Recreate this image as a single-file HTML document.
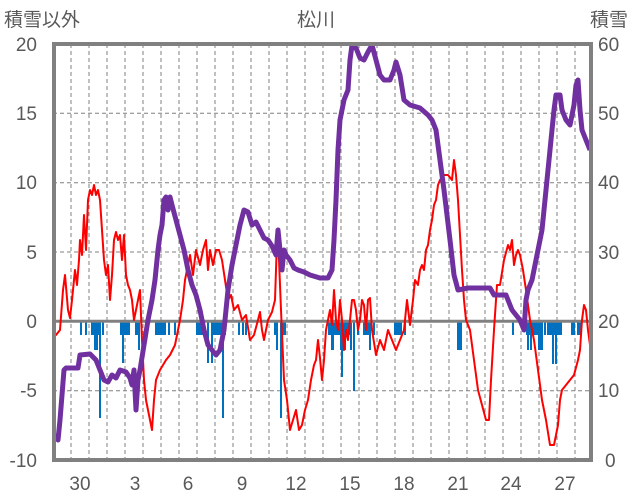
<!DOCTYPE html>
<html><head><meta charset="utf-8"><style>
body{margin:0;background:#fff;}
svg{display:block;}
text{font-family:"Liberation Sans","Noto Sans CJK JP",sans-serif;fill:#595959;font-size:19px;}
</style></head><body>
<svg width="636" height="501" viewBox="0 0 636 501">
<g stroke="#808080" stroke-width="1" stroke-dasharray="4,3">
<line x1="53" y1="113.3" x2="592" y2="113.3"/><line x1="53" y1="182.7" x2="592" y2="182.7"/><line x1="53" y1="252" x2="592" y2="252"/><line x1="53" y1="390.7" x2="592" y2="390.7"/>
<line x1="71" y1="44" x2="71" y2="460"/><line x1="89" y1="44" x2="89" y2="460"/><line x1="107" y1="44" x2="107" y2="460"/><line x1="125" y1="44" x2="125" y2="460"/><line x1="143" y1="44" x2="143" y2="460"/><line x1="161" y1="44" x2="161" y2="460"/><line x1="179" y1="44" x2="179" y2="460"/><line x1="197" y1="44" x2="197" y2="460"/><line x1="215" y1="44" x2="215" y2="460"/><line x1="233" y1="44" x2="233" y2="460"/><line x1="251" y1="44" x2="251" y2="460"/><line x1="269" y1="44" x2="269" y2="460"/><line x1="287" y1="44" x2="287" y2="460"/><line x1="305" y1="44" x2="305" y2="460"/><line x1="323" y1="44" x2="323" y2="460"/><line x1="341" y1="44" x2="341" y2="460"/><line x1="359" y1="44" x2="359" y2="460"/><line x1="377" y1="44" x2="377" y2="460"/><line x1="395" y1="44" x2="395" y2="460"/><line x1="413" y1="44" x2="413" y2="460"/><line x1="431" y1="44" x2="431" y2="460"/><line x1="449" y1="44" x2="449" y2="460"/><line x1="467" y1="44" x2="467" y2="460"/><line x1="485" y1="44" x2="485" y2="460"/><line x1="503" y1="44" x2="503" y2="460"/><line x1="521" y1="44" x2="521" y2="460"/><line x1="539" y1="44" x2="539" y2="460"/><line x1="557" y1="44" x2="557" y2="460"/><line x1="575" y1="44" x2="575" y2="460"/>
</g>
<g fill="#0070c0">
<rect x="80" y="322" width="2" height="13"/><rect x="85" y="322" width="2" height="13"/><rect x="91" y="322" width="10" height="13"/><rect x="94" y="322" width="4" height="28"/><rect x="99" y="322" width="2" height="96"/><rect x="102" y="322" width="2" height="13"/>
<rect x="120" y="322" width="10" height="13"/><rect x="122" y="322" width="2" height="41"/><rect x="135" y="322" width="5" height="13"/><rect x="138" y="322" width="2" height="28"/><rect x="146" y="322" width="2" height="13"/>
<rect x="155" y="322" width="11" height="13"/><rect x="168" y="322" width="2" height="13"/><rect x="174" y="322" width="2" height="13"/>
<rect x="196" y="322" width="8" height="13"/><rect x="207" y="322" width="2" height="41"/><rect x="211" y="322" width="2" height="41"/><rect x="212" y="322" width="10" height="13"/><rect x="222" y="322" width="2" height="96"/><rect x="224" y="322" width="2" height="13"/>
<rect x="238" y="322" width="2" height="13"/><rect x="242" y="322" width="2" height="13"/><rect x="245" y="322" width="2" height="13"/>
<rect x="274" y="322" width="2" height="13"/><rect x="276" y="322" width="2" height="28"/><rect x="280" y="322" width="2" height="96"/><rect x="282" y="322" width="2" height="13"/><rect x="284" y="322" width="2" height="13"/>
<rect x="328" y="322" width="10" height="13"/><rect x="331" y="322" width="3" height="28"/><rect x="338" y="322" width="2" height="13"/><rect x="340" y="322" width="6" height="28"/><rect x="341" y="322" width="2" height="55"/><rect x="346" y="322" width="6" height="13"/><rect x="350" y="322" width="2" height="28"/><rect x="353" y="322" width="2" height="69"/>
<rect x="357" y="322" width="2" height="13"/><rect x="363" y="322" width="6" height="13"/><rect x="369" y="322" width="2" height="28"/><rect x="373" y="322" width="2" height="13"/><rect x="394" y="322" width="8" height="13"/><rect x="404" y="322" width="2" height="13"/>
<rect x="457" y="322" width="5" height="28"/><rect x="512" y="322" width="2" height="13"/><rect x="526" y="322" width="12" height="13"/><rect x="527" y="322" width="2" height="28"/><rect x="530" y="322" width="2" height="28"/><rect x="538" y="322" width="5" height="28"/><rect x="544" y="322" width="2" height="13"/><rect x="547" y="322" width="15" height="13"/><rect x="552" y="322" width="2" height="42"/><rect x="555" y="322" width="2" height="42"/><rect x="571" y="322" width="4" height="13"/><rect x="577" y="322" width="4" height="13"/>
</g>
<line x1="53" y1="321.3" x2="592" y2="321.3" stroke="#808080" stroke-width="3"/>
<polyline fill="none" stroke="#ff0000" stroke-width="2" stroke-linejoin="round" points="53,330 56,335 60,330 63,290 65,275 68,310 70,318 72,300 75,270 77,285 79,260 80,240 82,255 84,215 86,250 88,200 90,190 92,195 94,185 96,195 98,190 100,200 102,230 104,260 106,275 108,265 110,300 112,275 114,240 116,232 118,240 120,235 122,260 124,235 126,275 128,285 130,290 132,300 134,320 136,310 138,300 140,290 142,340 144,380 146,400 148,410 150,420 152,430 154,400 156,380 158,375 160,370 163,365 166,360 170,355 175,345 180,320 183,300 185,280 188,265 190,255 193,275 196,250 200,265 203,250 206,240 208,270 210,250 213,265 216,250 219,250 222,260 225,280 228,300 231,295 234,310 238,305 242,320 246,315 250,340 254,335 258,320 260,312 262,330 264,340 268,320 272,312 275,300 277,240 279,260 281,310 284,380 287,400 290,430 293,420 296,410 299,430 302,425 305,410 308,400 311,380 314,365 316,360 318,340 320,358 322,380 324,360 326,330 328,320 330,310 332,325 334,290 336,320 338,330 340,300 342,320 344,350 346,330 348,340 350,320 352,300 354,300 356,310 358,330 360,320 362,300 364,305 366,330 368,300 370,298 372,330 376,355 380,340 384,350 388,330 392,340 396,350 400,340 404,330 407,300 410,325 413,300 415,280 418,285 420,270 422,265 424,270 426,250 428,245 430,230 432,220 434,205 436,200 438,185 440,180 444,175 448,175 452,180 454,160 456,175 458,200 460,235 462,270 464,300 466,320 470,330 474,360 478,390 482,405 486,420 489,420 491,380 494,330 497,285 500,285 504,260 508,245 510,250 512,240 514,265 516,255 518,250 520,255 523,270 526,290 530,320 534,340 538,370 542,400 546,420 550,445 554,445 556,435 558,425 560,400 562,390 566,385 570,380 574,375 578,360 580,350 582,320 584,305 586,310 588,330 590,345 592,350"/>
<polyline fill="none" stroke="#7030a0" stroke-width="5" stroke-linejoin="round" points="54,435 58,440 60,420 62,395 64,370 66,368 70,368 78,368 80,355 90,354 96,360 100,370 104,380 108,382 112,375 116,378 120,370 126,372 130,378 132,385 134,370 136,410 138,380 140,370 144,345 148,320 152,300 155,280 158,250 160,235 162,225 164,200 166,197 168,210 170,197 172,205 176,220 180,235 184,250 188,270 192,285 196,295 200,310 204,330 208,345 212,350 216,355 220,350 224,330 228,290 232,265 236,245 240,225 244,210 248,212 252,225 256,222 260,230 264,238 268,240 272,246 276,255 278,230 280,250 282,270 284,250 286,255 290,260 294,268 298,270 304,272 310,275 320,278 328,278 332,270 334,240 336,200 338,150 340,120 344,100 348,90 350,60 352,45 356,48 360,58 364,60 368,52 372,45 376,60 380,75 384,80 390,80 394,70 396,62 400,75 404,100 410,105 420,108 428,115 432,120 436,130 440,160 444,190 450,240 454,275 458,290 468,288 490,288 494,295 500,295 506,295 512,310 516,315 520,320 524,330 526,300 528,290 532,280 534,270 538,250 542,230 546,190 550,150 554,110 556,95 560,95 562,110 566,120 570,125 574,105 576,85 578,80 580,110 582,130 586,140 590,150"/>
<rect x="54" y="44" width="537" height="416" fill="none" stroke="#808080" stroke-width="4"/>
<g text-anchor="end"><text x="37" y="51">20</text><text x="37" y="120">15</text><text x="37" y="189">10</text><text x="37" y="259">5</text><text x="37" y="328">0</text><text x="37" y="397">-5</text><text x="37" y="467">-10</text></g>
<g><text x="598" y="51">60</text><text x="598" y="120">50</text><text x="598" y="189">40</text><text x="598" y="259">30</text><text x="598" y="328">20</text><text x="598" y="397">10</text><text x="605" y="467">0</text></g>
<g text-anchor="middle"><text x="80" y="490">30</text><text x="135" y="490">3</text><text x="188" y="490">6</text><text x="242" y="490">9</text><text x="296" y="490">12</text><text x="350" y="490">15</text><text x="404" y="490">18</text><text x="458" y="490">21</text><text x="511" y="490">24</text><text x="565" y="490">27</text></g>
<text x="4" y="26">積雪以外</text><text x="297" y="26">松川</text><text x="590" y="26">積雪</text>
</svg>
</body></html>
